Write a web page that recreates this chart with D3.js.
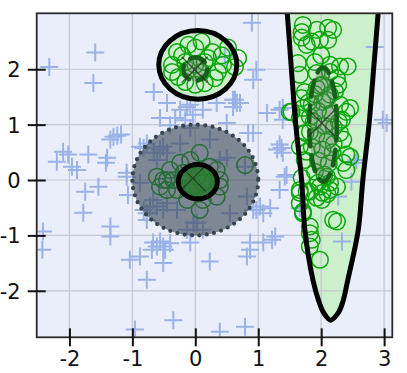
<!DOCTYPE html>
<html>
<head>
<meta charset="utf-8">
<script src="https://cdn.jsdelivr.net/npm/d3@7"></script>
<style>
  body { margin: 0; background: #fff; }
  text { font-family: "DejaVu Sans", sans-serif; }
</style>
</head>
<body>
<svg id="chart" width="407" height="373"></svg>
<script>
// axis ticks
var xTicks = [-2, -1, 0, 1, 2, 3]
var yTicks = [-2, -1, 0, 1, 2]

// class A samples (plus markers)
var plusPts = [
	[-2.32,2.04],[-1.59,2.30],[-1.62,1.75],[-0.66,1.59],
	[-1.30,0.78],[-1.24,0.80],[-1.35,0.73],[-1.18,0.82],
	[-2.10,0.51],[-2.02,0.46],[-2.20,0.33],[-1.70,0.46],[-1.96,0.24],[-1.88,0.18],
	[-1.40,0.40],[-1.42,0.31],[-1.09,0.13],[-0.88,0.60],[-0.77,0.66],
	[-0.45,1.39],[-0.24,1.27],[-0.08,1.36],[-0.32,1.12],[-0.16,1.08],[-0.56,1.12],
	[-0.40,0.99],[-0.08,0.94],[-0.13,1.32],[-0.04,1.18],[0.12,1.27],[0.60,1.32],
	[0.71,1.39],[0.50,1.03],[0.92,0.85],[1.14,1.21],[1.30,0.55],
	[-0.56,0.55],[-0.45,0.49],[-0.61,0.36],[0.39,0.36],[0.50,0.40],[0.79,0.24],
	[-1.09,0.06],[-0.88,-0.05],[-0.67,-0.36],[-0.72,-0.48],[-0.45,-0.42],[-0.51,-0.54],
	[-0.77,-0.60],[0.03,-0.77],[-0.13,-0.90],[0.12,-0.90],[0.55,-0.60],[0.92,-0.54],
	[1.03,-0.48],[0.82,-0.30],[1.08,-1.13],[-0.67,-1.13],[-0.51,-1.20],[-0.08,-1.13],[0.87,-1.13],
	[-0.82,0.58],[-0.66,0.49],[-0.51,0.60],[-0.24,0.66],
	[-0.82,-0.54],[-0.61,-0.48],[-0.29,-0.54],[-0.03,-0.77],
	[-2.42,-0.93],[-2.43,-1.26],[-1.75,-0.21],[-1.54,-0.12],[-1.78,-0.59],[-1.35,-0.84],
	[-1.35,-1.02],[-1.07,-0.27],[-1.04,-1.44],[-0.88,-1.38],[-0.77,-1.80],[-0.61,-1.20],
	[-0.56,-1.11],[-0.48,-1.26],[-0.51,-1.50],[-0.69,-1.26],[-0.35,-2.53],[-0.96,-2.70],
	[-0.40,-1.14],[-0.77,-0.72],
	[0.90,2.84],[0.92,1.81],[0.60,1.45],[0.66,1.39],[1.34,1.27],[1.39,1.09],[1.37,0.58],
	[1.39,0.49],[1.42,0.06],[0.84,0.85],[0.23,0.73],[2.85,2.40],[3.04,1.03],[2.56,0.36],
	[0.34,1.39],[0.97,1.99],[0.47,2.22],[0.63,1.45],
	[0.23,-0.18],[0.97,-0.54],[1.08,-0.60],[1.22,-1.08],[0.87,-1.26],[0.82,-1.38],
	[0.23,-1.47],[2.33,-1.11],[1.66,-0.51],[0.39,-2.74],[0.79,-2.65],
	[1.34,0.64],[1.45,0.09],[1.34,-0.18],[1.19,-0.51],[2.53,0.31],[2.48,-0.03],
	[2.27,-0.30],[1.27,-1.02],[2.98,1.09],[1.39,1.30]
]

// class B samples (circle markers)
var circlePts = [
	// upper group
	[-0.29,2.31],[-0.11,2.44],[0.10,2.50],[0.00,2.39],[0.27,2.31],[0.42,2.25],[0.68,2.20],
	[0.63,2.04],[0.44,2.08],[-0.37,2.08],[-0.37,1.95],[-0.27,1.86],[-0.16,1.77],[0.00,1.72],
	[0.15,1.75],[0.31,1.84],[0.36,1.95],[-0.16,2.13],[0.00,2.08],[0.15,2.13],[-0.11,1.99],
	[0.10,1.95],[-0.21,2.25],[0.20,2.20],[0.52,2.39],
	// centre group
	[0.07,0.49],[-0.08,0.36],[-0.24,0.31],[-0.40,0.18],[-0.51,0.00],[-0.56,-0.12],[-0.45,-0.18],
	[-0.29,-0.18],[-0.35,0.00],[-0.19,0.13],[0.23,0.24],[0.34,0.18],[0.39,0.00],[0.39,-0.12],
	[0.34,-0.30],[0.12,-0.36],[0.07,-0.54],[-0.13,-0.36],[0.79,0.27],[0.03,0.06],[0.12,-0.05],
	[-0.04,-0.12],[-0.61,0.06],[-0.45,0.00],
	// right group
	[1.71,2.80],[1.69,2.67],[1.93,2.71],[2.11,2.75],[2.19,2.71],[1.77,2.44],[1.85,2.50],
	[1.98,2.53],[2.11,2.53],[1.69,2.57],[1.63,2.11],[1.90,2.13],[2.14,2.08],[2.30,2.05],
	[2.42,2.05],[1.66,1.90],[1.93,1.93],[2.14,1.95],[1.74,1.59],[1.93,1.66],[2.02,1.72],
	[2.27,1.72],[2.25,1.84],[1.69,1.48],[1.71,1.30],[1.85,1.36],[1.50,1.23],[2.30,1.36],
	[2.40,1.23],[2.46,1.30],[2.02,1.41],[2.14,1.54],[1.82,1.14],[2.33,1.09],[1.66,1.12],
	[1.53,1.23],
	[1.82,0.87],[2.30,0.85],[2.35,0.73],[2.40,0.46],[2.35,0.31],[1.74,0.36],[1.69,0.04],
	[2.14,-0.05],[2.25,-0.12],[1.66,-0.18],[1.98,-0.12],[1.82,-0.21],[2.01,-0.36],[1.66,-0.42],
	[1.71,-0.57],[2.19,-0.72],[2.25,-0.75],[1.82,-0.84],[1.85,-1.08],[2.40,0.18],[2.09,0.06],
	[2.46,0.42],[1.66,0.60],[1.77,0.51],
	[1.66,-0.23],[1.71,-0.60],[1.82,-0.96],[1.82,-1.20],[1.98,-1.44],[1.77,-0.21],[1.93,-0.32],
	[2.02,-0.23],[2.14,-0.18],
	[1.90,1.55],[2.08,1.45],[1.95,1.25],[2.15,1.20],[1.88,1.05],[2.05,0.98],[2.20,0.95],
	[1.92,0.80],[2.10,0.72],[1.85,0.60],[2.02,0.55],[2.18,0.50],[1.95,0.35],[2.12,0.30],
	[1.90,0.15],[2.05,0.10],[2.20,0.65],[1.98,1.70],[2.22,1.60],[1.80,1.40],[2.00,2.25],
	[1.75,0.85],[2.28,1.05],[1.95,-0.05],[2.10,-0.25]
]

// decision boundary of the right region: [y, x left, x right]
var boundaryRows = [
	[3.10,1.45,2.91],[3.01,1.46,2.905],[2.0,1.527,2.833],[1.0,1.596,2.76],[0.0,1.689,2.662],
	[-0.9,1.741,2.589],[-1.8,1.868,2.424],[-2.2,1.966,2.344],[-2.4,2.04,2.27]
]
var boundaryTip = [2.15, -2.53]

// shaded unit disk
var disk = {cx: 0, cy: 0, r: 1}
// black boundary rings
var rings = [
	{cx: 0.04, cy: 2.08, r: 0.62, fill: "#ccf0cc", op: 1},
	{cx: 0.04, cy: -0.03, r: 0.31, fill: "#2a7a30", op: 0.85}
]
// component ellipses (dashed)
var compEll = [
	{cx: 2.03, cy: 1.0, rx: 0.22, ry: 1.03},
	{cx: 0.0, cy: 2.0, rx: 0.19, ry: 0.21}
]
// component centres
var centres = [[2.01, 1.03], [-0.01, 1.99], [-0.04, 0.03]]

var W = 407, H = 373
var margin = {left: 36.7, top: 13.3, right: 14.7, bottom: 35.7}
var pw = W - margin.left - margin.right
var ph = H - margin.top - margin.bottom

var svg = d3.select("#chart")
var g = svg.append("g").attr("transform", "translate(" + margin.left + "," + margin.top + ")")

var x = d3.scaleLinear().domain([-2.52, 3.13]).range([0, pw])
var y = d3.scaleLinear().domain([-2.84, 3.01]).range([ph, 0])

svg.append("defs").append("clipPath").attr("id", "clip")
	.append("rect").attr("width", pw).attr("height", ph)

g.append("rect").attr("width", pw).attr("height", ph).attr("fill", "#e9eefa")

var plot = g.append("g").attr("clip-path", "url(#clip)")

// right region path
var leftSide = boundaryRows.map(r => [r[1], r[0]])
var rightSide = boundaryRows.map(r => [r[2], r[0]]).reverse()
var regionPts = leftSide.concat([boundaryTip]).concat(rightSide)
var line = d3.line().x(d => x(d[0])).y(d => y(d[1])).curve(d3.curveCatmullRom)

plot.append("path").attr("d", line(regionPts) + "Z")
	.attr("fill", "#ccf0cc")

// ring fill (upper)
plot.append("ellipse")
	.attr("cx", x(rings[0].cx)).attr("cy", y(rings[0].cy))
	.attr("rx", x(rings[0].cx + rings[0].r) - x(rings[0].cx))
	.attr("ry", y(rings[0].cy) - y(rings[0].cy + rings[0].r))
	.attr("fill", rings[0].fill)

// grid (over the light fills)
plot.selectAll(".gx").data(xTicks).enter().append("line")
	.attr("x1", d => x(d)).attr("x2", d => x(d)).attr("y1", 0).attr("y2", ph)
	.attr("stroke", "#c3c7cf").attr("stroke-width", 1.2)
plot.selectAll(".gy").data(yTicks).enter().append("line")
	.attr("y1", d => y(d)).attr("y2", d => y(d)).attr("x1", 0).attr("x2", pw)
	.attr("stroke", "#c3c7cf").attr("stroke-width", 1.2)

// plus markers
var ps = 9
plot.append("g").selectAll("path").data(plusPts).enter().append("path")
	.attr("d", d => "M" + (x(d[0]) - ps) + "," + y(d[1]) + "h" + (2 * ps) +
		"M" + x(d[0]) + "," + (y(d[1]) - ps) + "v" + (2 * ps))
	.attr("stroke", "#9ab2e8").attr("stroke-width", 2).attr("fill", "none")

// circle markers
plot.append("g").selectAll("circle").data(circlePts).enter().append("circle")
	.attr("cx", d => x(d[0])).attr("cy", d => y(d[1])).attr("r", 8.3)
	.attr("fill", "none").attr("stroke", "#08a608").attr("stroke-width", 1.5)

// dashed component ellipses
plot.append("g").selectAll("ellipse").data(compEll).enter().append("ellipse")
	.attr("cx", d => x(d.cx)).attr("cy", d => y(d.cy))
	.attr("rx", d => x(d.cx + d.rx) - x(d.cx))
	.attr("ry", d => y(d.cy) - y(d.cy + d.ry))
	.attr("fill", "#5b6e5b").attr("fill-opacity", 0.4)
	.attr("stroke", "#17601c").attr("stroke-width", 4.5)
	.attr("stroke-dasharray", "16 9").attr("stroke-linecap", "round")

// shaded disk with dotted edge
plot.append("ellipse")
	.attr("cx", x(disk.cx)).attr("cy", y(disk.cy))
	.attr("rx", x(disk.cx + disk.r) - x(disk.cx))
	.attr("ry", y(disk.cy) - y(disk.cy + disk.r))
	.attr("fill", "#374451").attr("fill-opacity", 0.6)
	.attr("stroke", "#34444e").attr("stroke-width", 4.2)
	.attr("stroke-dasharray", "0 7.4").attr("stroke-linecap", "round")

// small ring fill
plot.append("ellipse")
	.attr("cx", x(rings[1].cx)).attr("cy", y(rings[1].cy))
	.attr("rx", x(rings[1].cx + rings[1].r) - x(rings[1].cx))
	.attr("ry", y(rings[1].cy) - y(rings[1].cy + rings[1].r))
	.attr("fill", rings[1].fill).attr("fill-opacity", rings[1].op)

// centre crosses
var cs = 13
plot.append("g").selectAll("path").data(centres).enter().append("path")
	.attr("d", d => {
		var cx = x(d[0]), cy = y(d[1])
		return "M" + (cx - cs) + "," + (cy - cs) + "L" + (cx + cs) + "," + (cy + cs) +
			"M" + (cx - cs) + "," + (cy + cs) + "L" + (cx + cs) + "," + (cy - cs)
	})
	.attr("stroke", "#1d2a1d").attr("stroke-opacity", 0.75).attr("stroke-width", 1.3)

// black boundaries
plot.append("path").attr("d", line(regionPts))
	.attr("fill", "none").attr("stroke", "#000").attr("stroke-width", 5)
plot.append("g").selectAll("ellipse").data(rings).enter().append("ellipse")
	.attr("cx", d => x(d.cx)).attr("cy", d => y(d.cy))
	.attr("rx", d => x(d.cx + d.r) - x(d.cx))
	.attr("ry", d => y(d.cy) - y(d.cy + d.r))
	.attr("fill", "none").attr("stroke", "#000").attr("stroke-width", 5)

// frame
g.append("rect").attr("width", pw).attr("height", ph)
	.attr("fill", "none").attr("stroke", "#2b2b2b").attr("stroke-width", 1.8)

// axes
var xAxis = g.append("g").attr("transform", "translate(0," + ph + ")")
	.call(d3.axisBottom(x).tickValues(xTicks).tickFormat(d => String(d)).tickSize(9))
var yAxis = g.append("g")
	.call(d3.axisLeft(y).tickValues(yTicks).tickFormat(d => String(d)).tickSize(9))

xAxis.select(".domain").remove()
yAxis.select(".domain").remove()
xAxis.selectAll(".tick line").attr("y1", -9).attr("y2", 9).attr("stroke", "#111").attr("stroke-width", 2)
yAxis.selectAll(".tick line").attr("x1", -9).attr("x2", 9).attr("stroke", "#111").attr("stroke-width", 2)
xAxis.selectAll(".tick text").attr("y", 14).attr("dy", "0.71em").attr("font-size", 21)
	.attr("fill", "#111").attr("font-family", "DejaVu Sans, sans-serif")
yAxis.selectAll(".tick text").attr("x", -16).attr("dy", "0.36em").attr("font-size", 21)
	.attr("fill", "#111").attr("font-family", "DejaVu Sans, sans-serif")
</script>
</body>
</html>
